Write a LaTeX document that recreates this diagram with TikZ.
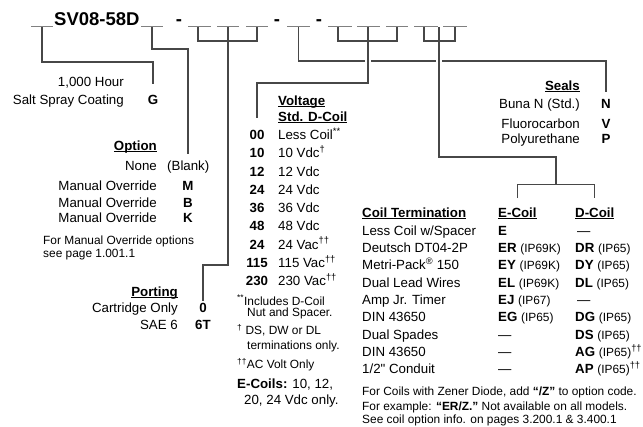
\documentclass[tikz,border=0pt]{standalone}
\usepackage{fontspec}
\setmainfont{Liberation Sans}
\usetikzlibrary{positioning, calc}

\newcommand{\mainsz}{\fontsize{13.3}{16}\selectfont}
\newcommand{\smallsz}{\fontsize{11.9}{14}\selectfont}
\newcommand{\titlesz}{\fontsize{18.5}{22}\selectfont}
\newcommand{\ulbf}[1]{\setbox0=\hbox{\bfseries #1}\rlap{\rule[-1.6pt]{\wd0}{0.9pt}}\box0}
\newcommand{\ipr}[1]{{\smallsz(#1)}}
\newcommand{\dg}{\textsuperscript{†}}
\newcommand{\ddg}{\textsuperscript{††}}
\newcommand{\inch}{{\addfontfeature{Ligatures=TeXOff}"}}

\begin{document}
\begin{tikzpicture}[
  x=1pt, y=-1pt,
  lbl/.style={inner sep=0pt, font=\mainsz, anchor=base east},
  txt/.style={inner sep=0pt, font=\mainsz, anchor=base west},
  codetxt/.style={inner sep=0pt, font=\mainsz\bfseries, anchor=base},
  note/.style={inner sep=0pt, font=\smallsz, anchor=base west},
  blank/.style={draw=black!50, line width=1pt},
  leader/.style={draw=black!72, line width=1.2pt},
  hop/.style={preaction={draw=white, line width=6pt}},
]
\useasboundingbox (0,0) rectangle (643,426);

% Model code
\node[inner sep=0pt, font=\titlesz\bfseries, anchor=base west] (model) at (54,25) {SV08-58D};
\node[codetxt, font=\titlesz\bfseries] (dasha) at (179,25) {-};
\node[codetxt, font=\titlesz\bfseries] (dashb) at (277,25) {-};
\node[codetxt, font=\titlesz\bfseries] (dashc) at (319,25) {-};

\coordinate (bg) at (42,27);
\coordinate (bopt) at (152,27);
\coordinate (pa) at (198,27);
\coordinate (pb) at (228,27);
\coordinate (pc) at (257,27);
\coordinate (bseal) at (298.5,27);
\coordinate (va) at (338,27);
\coordinate (vb) at (368,27);
\coordinate (vc) at (397,27);
\coordinate (ca) at (424,27);
\coordinate (cb) at (439,27);
\coordinate (cc) at (455,27);

% 1,000 Hour coating
\node[lbl] (hour) at (124,86.5) {1,000 Hour};
\node[lbl] (salt) at (124,104) {Salt Spray Coating};
\node[codetxt] (gcode) at (153,104) {G};

% Option
\node[lbl] (opthd) at (157,150.5) {\ulbf{Option}};
\node[lbl] (optnone) at (157,170.5) {None};
\node[txt] (optblank) at (167,170.5) {(Blank)};
\node[lbl] (optm) at (157,190) {Manual Override};
\node[codetxt] (mcode) at (188,190) {M};
\node[lbl] (optb) at (157,207) {Manual Override};
\node[codetxt] (bcode) at (188,207) {B};
\node[lbl] (optk) at (157,222) {Manual Override};
\node[codetxt] (kcode) at (188,222) {K};
\node[note] (optnotea) at (43,244.5) {For Manual Override options};
\node[note] (optnoteb) at (43,257) {see page 1.001.1};

% Porting
\node[lbl] (porthd) at (178,296) {\ulbf{Porting}};
\node[lbl] (portcart) at (178,312.5) {Cartridge Only};
\node[codetxt] (zerocode) at (203,312.5) {0};
\node[lbl] (portsae) at (178,329.5) {SAE 6};
\node[codetxt] (sixcode) at (203,329.5) {6T};

% Voltage
\node[txt] (volthd) at (278,105.5) {\ulbf{Voltage}};
\node[txt] (volthdb) at (278,121.5) {\ulbf{Std. D-Coil}};
\node[codetxt] (v00) at (257,139.5) {00};
\node[txt] (v00t) at (278,139.5) {Less Coil\textsuperscript{**}};
\node[codetxt] (v10) at (257,157.75) {10};
\node[txt] (v10t) at (278,157.75) {10 Vdc\dg};
\node[codetxt] (v12) at (257,176) {12};
\node[txt] (v12t) at (278,176) {12 Vdc};
\node[codetxt] (v24) at (257,194.25) {24};
\node[txt] (v24t) at (278,194.25) {24 Vdc};
\node[codetxt] (v36) at (257,212.5) {36};
\node[txt] (v36t) at (278,212.5) {36 Vdc};
\node[codetxt] (v48) at (257,230.75) {48};
\node[txt] (v48t) at (278,230.75) {48 Vdc};
\node[codetxt] (v24ac) at (257,249) {24};
\node[txt] (v24act) at (278,249) {24 Vac\ddg};
\node[codetxt] (v115) at (257,267.25) {115};
\node[txt] (v115t) at (278,267.25) {115 Vac\ddg};
\node[codetxt] (v230) at (257,285.5) {230};
\node[txt] (v230t) at (278,285.5) {230 Vac\ddg};

\node[note] (vnotea) at (237,305) {\textsuperscript{**}Includes D-Coil};
\node[note] (vnoteb) at (247,316.5) {Nut and Spacer.};
\node[note] (vnotec) at (237,334.5) {\textsuperscript{†} DS, DW or DL};
\node[note] (vnoted) at (247,349) {terminations only.};
\node[note] (vnotee) at (237,368.5) {\textsuperscript{††}AC Volt Only};
\node[txt] (vnotef) at (237,388) {\textbf{E-Coils:} 10, 12,};
\node[txt] (vnoteg) at (244,404.5) {20, 24 Vdc only.};

% Seals
\node[lbl] (sealhd) at (580,90) {\ulbf{Seals}};
\node[lbl] (sealn) at (580,108.8) {Buna N (Std.)};
\node[codetxt] (ncode) at (606,108.8) {N};
\node[lbl] (sealv) at (580,128.8) {Fluorocarbon};
\node[codetxt] (vcode) at (606,128.8) {V};
\node[lbl] (sealp) at (580,143.5) {Polyurethane};
\node[codetxt] (pcode) at (606,143.5) {P};

% Coil termination
\node[txt] (coilhd) at (362,217) {\ulbf{Coil Termination}};
\node[txt] (ehd) at (498,217) {\ulbf{E-Coil}};
\node[txt] (dhd) at (575,217) {\ulbf{D-Coil}};

\node[txt] (ta) at (362,235) {Less Coil w/Spacer};
\node[txt] (tae) at (498,235) {\textbf{E}};
\node[txt] (tad) at (577,235) {—};
\node[txt] (tb) at (362,252.35) {Deutsch DT04-2P};
\node[txt] (tbe) at (498,252.35) {\textbf{ER} \ipr{IP69K}};
\node[txt] (tbd) at (575,252.35) {\textbf{DR} \ipr{IP65}};
\node[txt] (tc) at (362,269.7) {Metri-Pack\textsuperscript{®} 150};
\node[txt] (tce) at (498,269.7) {\textbf{EY} \ipr{IP69K}};
\node[txt] (tcd) at (575,269.7) {\textbf{DY} \ipr{IP65}};
\node[txt] (td) at (362,287.05) {Dual Lead Wires};
\node[txt] (tde) at (498,287.05) {\textbf{EL} \ipr{IP69K}};
\node[txt] (tdd) at (575,287.05) {\textbf{DL} \ipr{IP65}};
\node[txt] (te) at (362,304.4) {Amp Jr. Timer};
\node[txt] (tee) at (498,304.4) {\textbf{EJ} \ipr{IP67}};
\node[txt] (ted) at (577,304.4) {—};
\node[txt] (tf) at (362,321.75) {DIN 43650};
\node[txt] (tfe) at (498,321.75) {\textbf{EG} \ipr{IP65}};
\node[txt] (tfd) at (575,321.75) {\textbf{DG} \ipr{IP65}};
\node[txt] (tg) at (362,339.1) {Dual Spades};
\node[txt] (tge) at (498,339.1) {—};
\node[txt] (tgd) at (575,339.1) {\textbf{DS} \ipr{IP65}};
\node[txt] (th) at (362,356.45) {DIN 43650};
\node[txt] (the) at (498,356.45) {—};
\node[txt] (thd) at (575,356.45) {\textbf{AG} \ipr{IP65}\ddg};
\node[txt] (ti) at (362,373.8) {1/2\inch{} Conduit};
\node[txt] (tie) at (498,373.8) {—};
\node[txt] (tid) at (575,373.8) {\textbf{AP} \ipr{IP65}\ddg};

\node[note] (foota) at (362,395.5) {For Coils with Zener Diode, add \textbf{“/Z”} to option code.};
\node[note] (footb) at (362,410) {For example: \textbf{“ER/Z.”} Not available on all models.};
\node[note] (footc) at (362,423) {See coil option info. on pages 3.200.1 \& 3.400.1};

% Leaders
\draw[leader] (bseal) -- ++(0,34) -| ($(ncode.north)+(0,-7)$);
\draw[leader, hop] (vb) -- ++(0,56) -| ($(v00.north)+(0,-12)$);
\coordinate (cj) at ($(ehd.north)!0.5!(dhd.north)+(0,-23)$);
\draw[leader, hop] (cb) -- ++(0,130) -| (cj);
\draw[leader] ($(ehd.north)+(0,-9)$) |- (cj) -| ($(dhd.north)+(0,-9)$);

\draw[leader] (bg) -- ++(0,35) -| ($(gcode.north)+(0,-11)$);
\draw[leader] (bopt) -- ++(0,22) -| ($(mcode.north)+(0,-27)$);
\draw[leader] (pa) -- ++(0,14) -| (pc);
\draw[leader] (pb) -- ++(0,238) -| ($(zerocode.north)+(0,-2)$);
\draw[leader] (va) -- ++(0,14) -| (vc);
\draw[leader] (ca) -- ++(0,14) -| (cc);

% Blanks
\draw[blank] (31,26) -- (53,26) (141,26) -- (163,26)
  (188,26) -- (211,26) (217,26) -- (239,26) (246,26) -- (268,26)
  (287,26) -- (310,26)
  (328,26) -- (352,26) (357,26) -- (380,26) (386,26) -- (408,26)
  (414,26) -- (438,26) (443,26) -- (467,26);

\end{tikzpicture}
\end{document}
